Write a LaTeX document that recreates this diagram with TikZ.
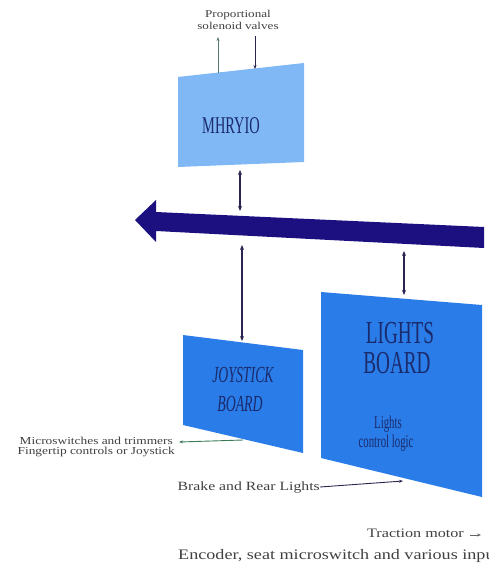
\documentclass[tikz,border=0pt]{standalone}
\usepackage{fontspec}
\setmainfont{Liberation Serif}
\newfontfamily\widefont[FakeStretch=1.25]{Liberation Serif}
\newfontfamily\narrowfont[FakeStretch=0.6]{Liberation Serif}
\usetikzlibrary{arrows.meta}

\definecolor{busnavy}{HTML}{1C0F80}
\definecolor{boardblue}{HTML}{2A7DE8}
\definecolor{ioblue}{HTML}{80B8F6}
\definecolor{labelnavy}{HTML}{1A2A6C}
\definecolor{linkdark}{HTML}{2C2450}
\definecolor{feedgreen}{HTML}{3C7A5C}

\begin{document}
\begin{tikzpicture}[x=1pt, y=-1pt,
    board/.style={fill=boardblue},
    iobox/.style={fill=ioblue},
    boardtext/.style={text=labelnavy, inner sep=0pt, align=center, font=\narrowfont\fontsize{#1}{#1}\selectfont},
    note/.style={text=black!75, inner sep=0pt, align=center, font=\widefont\fontsize{#1}{#1}\selectfont},
    link/.style={draw=linkdark, line width=1.3pt, {Stealth[length=5pt,width=4pt]}-{Stealth[length=5pt,width=4pt]}},
    feed/.style={draw=linkdark, line width=0.6pt, -{Stealth[length=4pt,width=3pt]}}]
    \useasboundingbox (0,0) rectangle (488,575);
    \clip (0,0) rectangle (488,575);

    % boards
    \fill[iobox] (178,77) -- (304,63) -- (304,162) -- (178,167) -- cycle;
    \fill[board] (183,335) -- (303,350) -- (303,453) -- (183,425) -- cycle;
    \fill[board] (321,292) -- (482,305) -- (482,497) -- (321,458) -- cycle;

    % bus
    \fill[busnavy] (135,220) -- (156,200) -- (156,212) -- (484,227) -- (484,248)
        -- (156,231) -- (156,242) -- cycle;

    % labels on the boards
    \node[boardtext=24] (mhryio) at (231,126) {MHRYIO};
    \node[boardtext=23] (joystick) at (243,375) {\itshape JOYSTICK};
    \node[boardtext=23] (joyboard) at (240,404) {\itshape BOARD};
    \node[boardtext=32] (lights) at (400,333) {LIGHTS};
    \node[boardtext=32] (lightsboard) at (397,363) {BOARD};
    \node[boardtext=18] (logicTop) at (388,424) {Lights};
    \node[boardtext=18] (logic) at (386,443) {control logic};

    % notes
    \node[note=10.5] (valves) at (238,20) {Proportional\\[1pt]solenoid valves};
    \node[note=10.7, anchor=east] (micro) at (175,447) {Microswitches and trimmers\\Fingertip controls or Joystick};
    \node[note=12.6, anchor=east] (brake) at (320,487) {Brake and Rear Lights};
    \node[note=12.9, anchor=east] (traction) at (464,533) {Traction motor};
    \node[note=14.5, anchor=west] (encoder) at (178,556) {Encoder, seat microswitch and various inputs};

    % end points
    \coordinate (valvesUp) at (218,37);
    \coordinate (ioUp) at (218,73);
    \coordinate (valvesDown) at (255,36);
    \coordinate (ioDown) at (255,69);
    \coordinate (ioBus) at (240,170);
    \coordinate (busIo) at (240,211);
    \coordinate (busJoy) at (242,245);
    \coordinate (joyBus) at (242,341);
    \coordinate (busLights) at (404,251);
    \coordinate (lightsBus) at (404,295);
    \coordinate (joyOut) at (243,440);
    \coordinate (microIn) at (179,442);
    \coordinate (lightsIn) at (403,481);
    \coordinate (tractionIn) at (470,535);
    \coordinate (tractionOut) at (481,535);

    \draw[feed, draw=feedgreen!60!gray] (ioUp) -- (valvesUp);
    \draw[feed] (valvesDown) -- (ioDown);
    \draw[link] (ioBus) -- (busIo);
    \draw[link] (busJoy) -- (joyBus);
    \draw[link, line width=2pt] (busLights) -- (lightsBus);
    \draw[feed, draw=feedgreen, line width=0.9pt] (joyOut) -- (microIn);
    \draw[feed, line width=0.9pt] (brake.east) -- (lightsIn);
    \draw[feed, draw=black!60] (tractionIn) -- (tractionOut);
\end{tikzpicture}
\end{document}
